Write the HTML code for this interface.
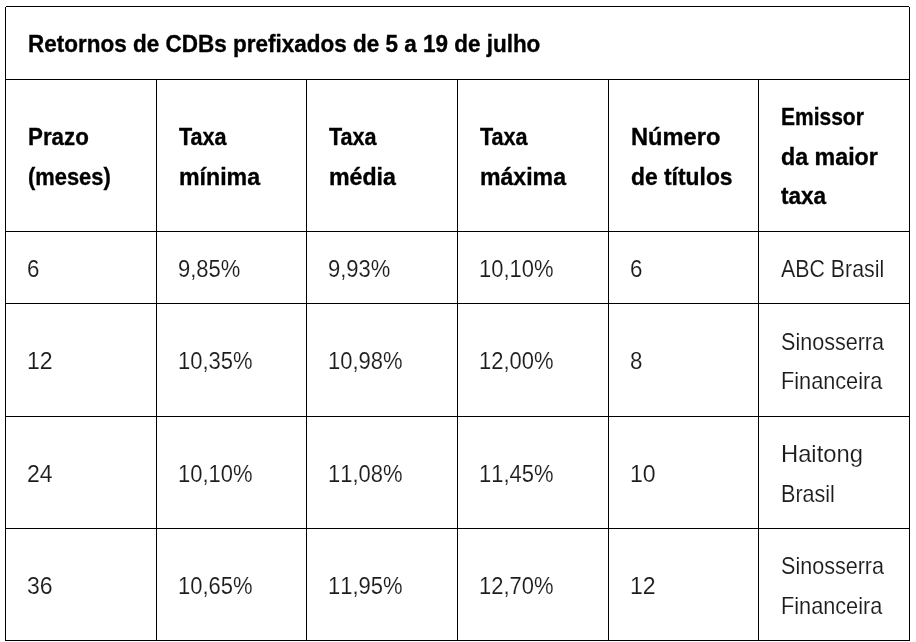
<!DOCTYPE html>
<html lang="pt-BR">
<head>
<meta charset="utf-8">
<title>Retornos de CDBs prefixados de 5 a 19 de julho</title>
<style>
html,body{margin:0;padding:0;background:#fff;}
body{width:916px;height:642px;overflow:hidden;position:relative;font-family:"Liberation Sans",sans-serif;}
table{position:absolute;left:5px;top:6px;width:905px;border-collapse:collapse;table-layout:fixed;}
td,th{border:1px solid #000;padding:2px 0 0 21.5px;text-align:left;vertical-align:middle;font-size:24.0px;line-height:39.4px;font-weight:normal;overflow:hidden;white-space:nowrap;color:#1c1c1c;-webkit-text-stroke:0.12px #fff;}
th{font-weight:bold;font-size:24.0px;color:#000;padding-top:2px;-webkit-text-stroke:0.35px #000;}
.l{display:block;height:39.4px;}
.s{display:inline-block;transform-origin:0 50%;}
td{padding-left:21px;font-kerning:none;}
td:last-child{padding-left:21.6px;}
tr.r0{height:73px;}
tr.r0 .s{margin-left:0.6px;}
.dot{position:absolute;width:1px;height:1px;background:#fff;top:6px;}
tr.r1{height:152px;}
tr.r2{height:72px;}
tr.r3{height:113px;}
tr.r4{height:112px;}
tr.r5{height:112px;}
</style>
</head>
<body>
<table>
<colgroup><col style="width:151px"><col style="width:150px"><col style="width:151px"><col style="width:151px"><col style="width:150px"><col style="width:151px"></colgroup>
<thead>
<tr class="r0"><th colspan="6"><div class="l"><span class="s" style="transform:scaleX(0.9370)">Retornos de CDBs prefixados de 5 a 19 de julho</span></div></th></tr>
<tr class="r1"><th><div class="l"><span class="s" style="transform:scaleX(0.9300)">Prazo</span></div><div class="l"><span class="s" style="transform:scaleX(0.9120)">(meses)</span></div></th><th><div class="l"><span class="s" style="transform:scaleX(0.9000)">Taxa</span></div><div class="l"><span class="s" style="transform:scaleX(0.9650)">mínima</span></div></th><th><div class="l"><span class="s" style="transform:scaleX(0.9000)">Taxa</span></div><div class="l"><span class="s" style="transform:scaleX(0.9650)">média</span></div></th><th><div class="l"><span class="s" style="transform:scaleX(0.9000)">Taxa</span></div><div class="l"><span class="s" style="transform:scaleX(0.9620)">máxima</span></div></th><th><div class="l"><span class="s" style="transform:scaleX(0.9850)">Número</span></div><div class="l"><span class="s" style="transform:scaleX(0.9520)">de títulos</span></div></th><th><div class="l"><span class="s" style="transform:scaleX(0.8750)">Emissor</span></div><div class="l"><span class="s" style="transform:scaleX(0.9680)">da maior</span></div><div class="l"><span class="s" style="transform:scaleX(0.9400)">taxa</span></div></th></tr>
</thead>
<tbody>
<tr class="r2"><td><div class="l"><span class="s" style="transform:scaleX(0.9300)">6</span></div></td><td><div class="l"><span class="s" style="transform:scaleX(0.9150)">9,85%</span></div></td><td><div class="l"><span class="s" style="transform:scaleX(0.9150)">9,93%</span></div></td><td><div class="l"><span class="s" style="transform:scaleX(0.9150)">10,10%</span></div></td><td><div class="l"><span class="s" style="transform:scaleX(0.9300)">6</span></div></td><td><div class="l"><span class="s" style="transform:scaleX(0.8890)">ABC Brasil</span></div></td></tr>
<tr class="r3"><td><div class="l"><span class="s" style="transform:scaleX(0.9600)">12</span></div></td><td><div class="l"><span class="s" style="transform:scaleX(0.9150)">10,35%</span></div></td><td><div class="l"><span class="s" style="transform:scaleX(0.9150)">10,98%</span></div></td><td><div class="l"><span class="s" style="transform:scaleX(0.9150)">12,00%</span></div></td><td><div class="l"><span class="s" style="transform:scaleX(0.9300)">8</span></div></td><td><div class="l"><span class="s" style="transform:scaleX(0.8980)">Sinosserra</span></div><div class="l"><span class="s" style="transform:scaleX(0.9040)">Financeira</span></div></td></tr>
<tr class="r4"><td><div class="l"><span class="s" style="transform:scaleX(0.9600)">24</span></div></td><td><div class="l"><span class="s" style="transform:scaleX(0.9150)">10,10%</span></div></td><td><div class="l"><span class="s" style="transform:scaleX(0.9150)">11,08%</span></div></td><td><div class="l"><span class="s" style="transform:scaleX(0.9150)">11,45%</span></div></td><td><div class="l"><span class="s" style="transform:scaleX(0.9600)">10</span></div></td><td><div class="l"><span class="s" style="transform:scaleX(0.9900)">Haitong</span></div><div class="l"><span class="s" style="transform:scaleX(0.8980)">Brasil</span></div></td></tr>
<tr class="r5"><td><div class="l"><span class="s" style="transform:scaleX(0.9600)">36</span></div></td><td><div class="l"><span class="s" style="transform:scaleX(0.9150)">10,65%</span></div></td><td><div class="l"><span class="s" style="transform:scaleX(0.9150)">11,95%</span></div></td><td><div class="l"><span class="s" style="transform:scaleX(0.9150)">12,70%</span></div></td><td><div class="l"><span class="s" style="transform:scaleX(0.9600)">12</span></div></td><td><div class="l"><span class="s" style="transform:scaleX(0.8980)">Sinosserra</span></div><div class="l"><span class="s" style="transform:scaleX(0.9040)">Financeira</span></div></td></tr>
</tbody>
</table>
<div class="dot" style="left:5px"></div><div class="dot" style="left:909px"></div>
</body>
</html>
